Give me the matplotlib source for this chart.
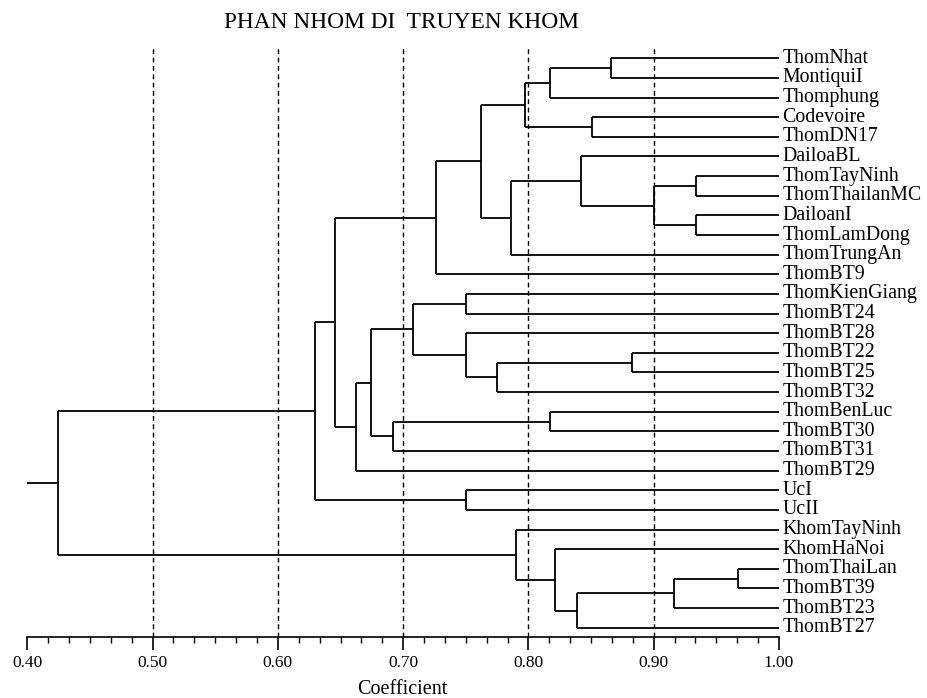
import matplotlib
matplotlib.use("Agg")
import matplotlib.pyplot as plt
import numpy as np

# ---- data ----
leaf_labels = ["ThomNhat", "MontiquiI", "Thomphung", "Codevoire", "ThomDN17",
               "DailoaBL", "ThomTayNinh", "ThomThailanMC", "DailoanI", "ThomLamDong",
               "ThomTrungAn", "ThomBT9", "ThomKienGiang", "ThomBT24", "ThomBT28",
               "ThomBT22", "ThomBT25", "ThomBT32", "ThomBenLuc", "ThomBT30",
               "ThomBT31", "ThomBT29", "UcI", "UcII", "KhomTayNinh",
               "KhomHaNoi", "ThomThaiLan", "ThomBT39", "ThomBT23", "ThomBT27"]
# merges: new cluster id = 30 + position in list
merge_left = [0, 30, 3, 31, 6, 8, 34, 5, 37, 33, 39, 12, 15, 42, 14, 41, 18, 46,
              45, 48, 40, 22, 50, 26, 53, 54, 25, 24, 52]
merge_right = [1, 2, 4, 32, 7, 9, 35, 36, 10, 38, 11, 13, 16, 17, 43, 44, 19, 20,
               47, 21, 49, 23, 51, 27, 28, 29, 55, 56, 57]
merge_height = [0.866, 0.817, 0.851, 0.797, 0.934, 0.934, 0.900, 0.842, 0.786,
                0.762, 0.726, 0.750, 0.883, 0.775, 0.750, 0.708, 0.817, 0.692,
                0.674, 0.662, 0.646, 0.750, 0.630, 0.967, 0.916, 0.839, 0.821,
                0.790, 0.4245]
major_ticks = [0.40, 0.50, 0.60, 0.70, 0.80, 0.90, 1.00]
ref_lines = [0.50, 0.60, 0.70, 0.80, 0.90]
title = "PHAN NHOM DI  TRUYEN KHOM"
xlabel = "Coefficient"

# ---- figure ----
W, H = 927, 698
fig = plt.figure(figsize=(W / 100, H / 100), dpi=100)
ax_left, ax_right = 27.3, 779.0
ax_top, ax_bot = 48.0, 636.7
ax = fig.add_axes([ax_left / W, 1 - ax_bot / H, (ax_right - ax_left) / W, (ax_bot - ax_top) / H])
leaf0_px, step_px = 58.3, 19.634
ax.set_xlim(0.40, 1.00)
ax.set_ylim((ax_bot - leaf0_px) / step_px, (ax_top - leaf0_px) / step_px)

serif = ["Liberation Serif", "DejaVu Serif"]
lw = 1.3
n = len(leaf_labels)
ypos = {i: float(i) for i in range(n)}
xpos = {i: 1.0 for i in range(n)}
for k, (a, b, h) in enumerate(zip(merge_left, merge_right, merge_height)):
    cid = n + k
    ya, yb = ypos[a], ypos[b]
    ax.plot([h, h], [ya, yb], color="black", lw=lw, solid_capstyle="butt", zorder=3)
    ax.plot([xpos[a], h], [ya, ya], color="black", lw=lw, solid_capstyle="butt", zorder=3)
    ax.plot([xpos[b], h], [yb, yb], color="black", lw=lw, solid_capstyle="butt", zorder=3)
    ypos[cid] = (ya + yb) / 2
    xpos[cid] = h
root = n + len(merge_height) - 1
ax.plot([0.40, xpos[root]], [ypos[root], ypos[root]], color="black", lw=lw, zorder=3)

for i, lab in enumerate(leaf_labels):
    ax.annotate(lab, xy=(1.0, i), xytext=(2.5, 0), textcoords="offset points",
                ha="left", va="center", fontsize=14.3, family=serif, clip_on=False,
                annotation_clip=False)

for r in ref_lines:
    ax.axvline(r, color="black", lw=1.0, linestyle=(0, (3.5, 2.5)), zorder=2)

for s in ["top", "right", "left"]:
    ax.spines[s].set_visible(False)
ax.spines["bottom"].set_linewidth(1.2)
ax.set_yticks([])
ax.set_xticks(major_ticks)
ax.set_xticks(np.arange(0.40, 1.0001, 0.1 / 6), minor=True)
ax.set_xticklabels([f"{t:.2f}" for t in major_ticks], family=serif, fontsize=12.5)
ax.tick_params(axis="x", which="major", direction="out", length=9.5, width=1.2, pad=4)
ax.tick_params(axis="x", which="minor", direction="out", length=4.5, width=1.0)
ax.set_facecolor("none")

fig.text(402 / W, 1 - 23 / H, title, ha="center", va="center", fontsize=16.8, family=serif)
fig.text(402 / W, 1 - 689 / H, xlabel, ha="center", va="center", fontsize=14.5, family=serif)

fig.savefig("out.png", dpi=100, facecolor="white")
